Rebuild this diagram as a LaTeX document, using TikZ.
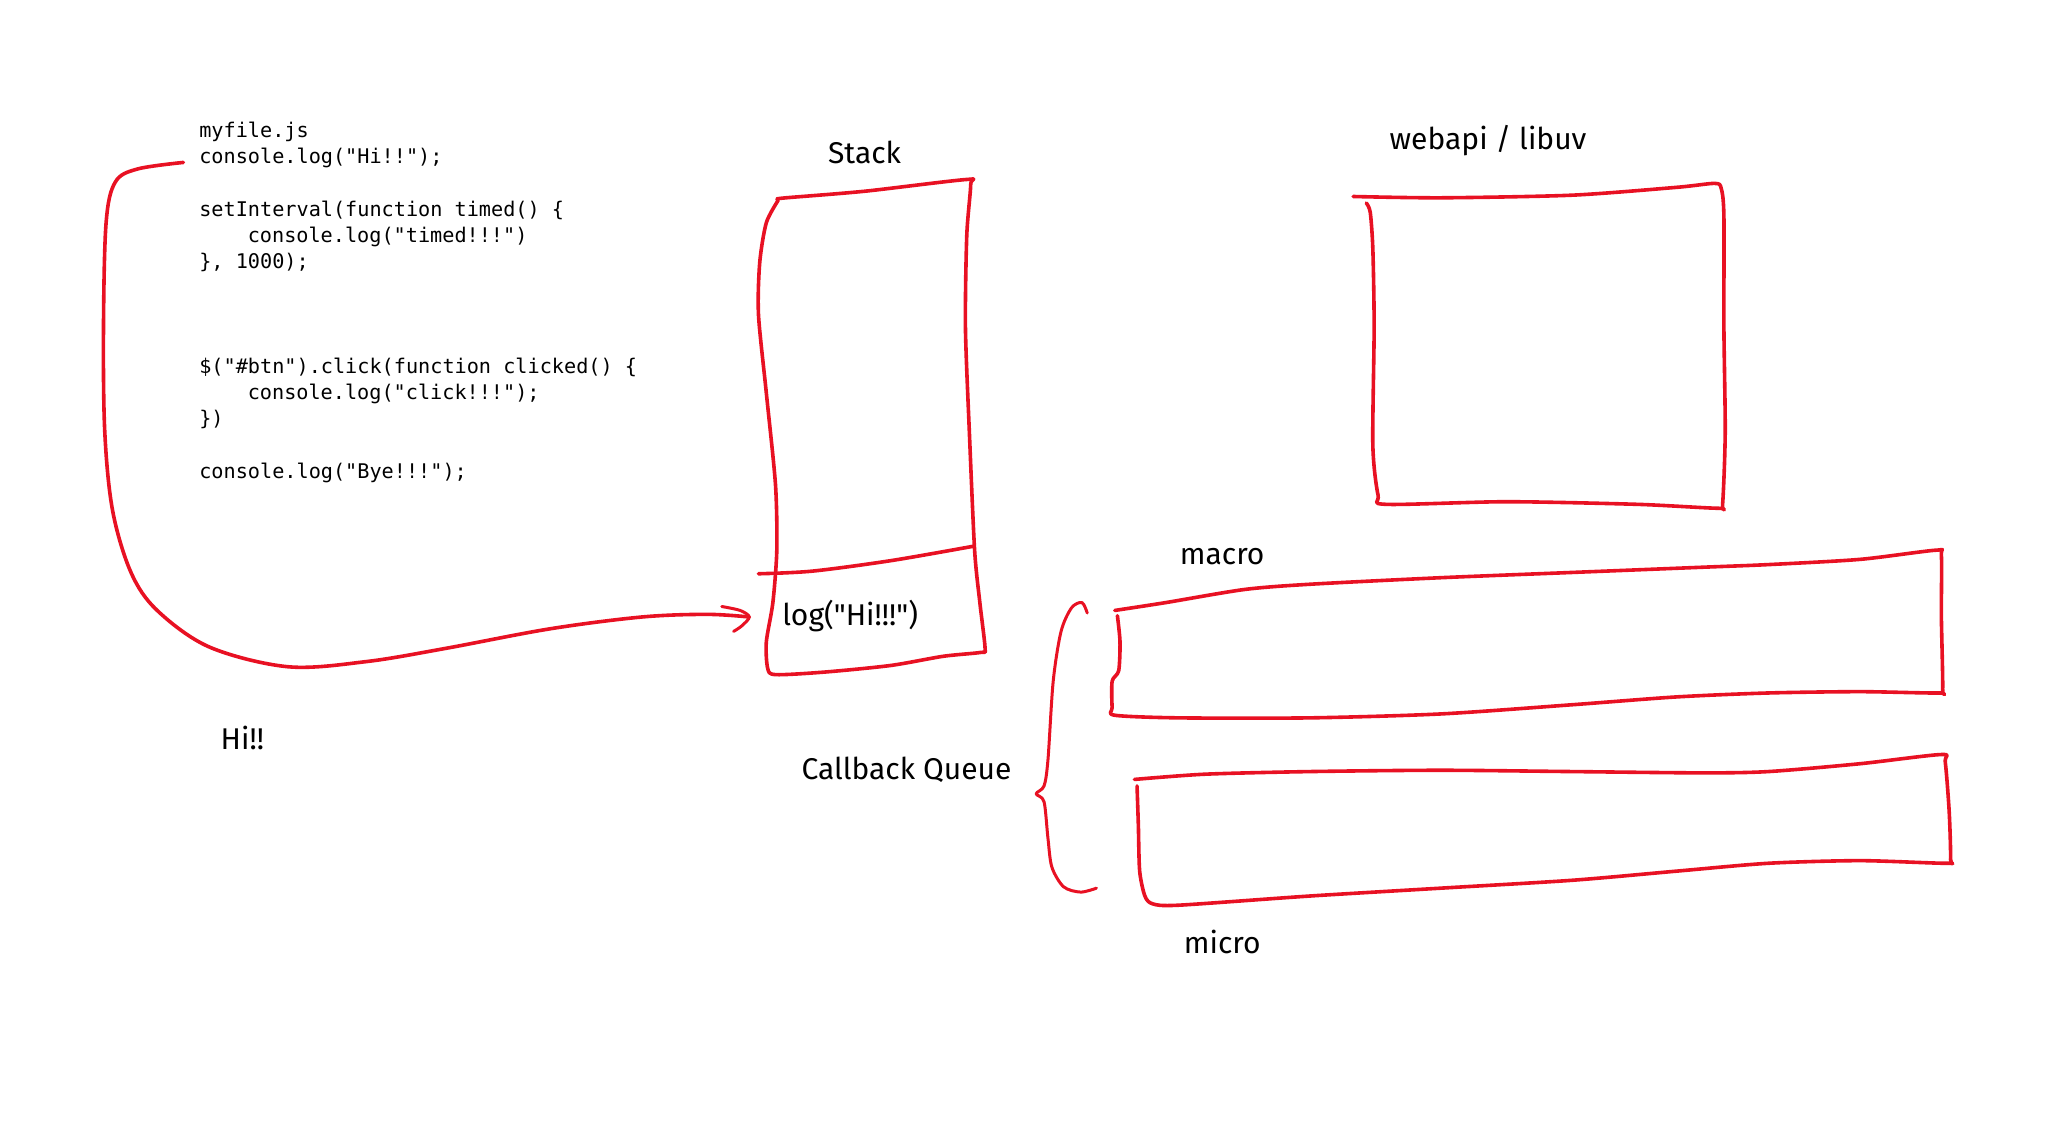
\documentclass[tikz,border=0pt]{standalone}
\usepackage{fontspec}
\newfontfamily\handfont{Fira Sans}
\newfontfamily\codefont{DejaVu Sans Mono}
\definecolor{ink}{HTML}{E81123}
\begin{document}
\begin{tikzpicture}[x=1.31pt,y=-1.31pt,
  inkline/.style={draw=ink,line width=3.6pt,line cap=round,line join=round},
  hand/.style={font=\handfont\fontsize{30}{36}\selectfont,inner sep=0pt},
  code/.style={font=\codefont\fontsize{20.2}{26}\selectfont,anchor=base west,inner sep=0pt}]
\useasboundingbox[fill=white] (0,0) rectangle (1568,856);

% code
\node[code] (c1)  at (152,105) {myfile.js};
\node[code] (c2)  at (152,125) {console.log("Hi!!");};
\node[code] (c3)  at (152,165) {setInterval(function timed() \{};
\node[code] (c4)  at (189,185) {console.log("timed!!!")};
\node[code] (c5)  at (152,205) {\}, 1000);};
\node[code] (c6)  at (152,285) {\$("\#btn").click(function clicked() \{};
\node[code] (c7)  at (189,305) {console.log("click!!!");};
\node[code] (c8)  at (152,325) {\})};
\node[code] (c9)  at (152,365) {console.log("Bye!!!");};

% labels
\node[hand] (stack)  at (660,116) {Stack};
\node[hand] (webapi) at (1136,107) {webapi / libuv};
\node[hand] (macro)  at (933,425) {macro};
\node[hand] (micro)  at (933,719) {micro};
\node[hand] (cbq)    at (692,588) {Callback Queue};
\node[hand] (hi)     at (185,563) {Hi!!};
\node[hand] (logHi)  at (649,470) {log("Hi!!!")};

% stack box
\draw[inkline] plot[smooth,tension=0.45] coordinates {
  (593,152) (600,151) (660,146) (738,137) (741,141) (738,180) (737,250) (740,330)
  (744,420) (748,460) (752,495) (749,498) (720,501) (680,508) (630,513) (592,515)
  (586,510) (585,490) (590,460) (593,420) (592,370) (585,300) (579,240) (580,200)
  (585,170) (594,153)};
\draw[inkline] plot[smooth,tension=0.5] coordinates {(579,438) (620,436) (680,428) (743,417)};

% webapi box
\draw[inkline] plot[smooth,tension=0.45] coordinates {
  (1033,150) (1100,151) (1200,149) (1280,143) (1309,140) (1314,144) (1316,165)
  (1316,250) (1317,330) (1315,385) (1312,388) (1250,385) (1150,383) (1058,385) (1052,378)
  (1048,340) (1049,250) (1048,190) (1046,162) (1043,155)};

% macro box
\draw[inkline] plot[smooth,tension=0.45] coordinates {
  (851,466) (890,460) (950,450) (1000,446) (1100,441) (1200,437) (1300,433)
  (1350,431) (1420,427) (1478,420) (1482,424) (1482,470) (1483,526) (1480,529) (1420,528)
  (1350,529) (1280,532) (1200,538) (1100,545) (1000,548) (900,548) (851,546)
  (849,540) (849,520) (854,512) (855,490) (853,470)};

% micro box
\draw[inkline] plot[smooth,tension=0.45] coordinates {
  (866,595) (920,591) (1000,589) (1100,588) (1200,589) (1300,590) (1350,589)
  (1420,583) (1482,576) (1485,582) (1488,620) (1489,656) (1486,659) (1420,657) (1350,659)
  (1280,665) (1200,672) (1100,678) (1000,684) (900,691) (880,690) (874,684)
  (870,665) (869,630) (868,600)};

% brace
\draw[inkline,line width=3pt] plot[smooth,tension=0.5] coordinates {
  (830,468) (826,460) (818,464) (810,482) (804,520) (800,580) (797,600)
  (791,606) (797,612) (800,640) (803,662) (812,677) (825,681) (837,678)};

% arrow from code to stack
\coordinate (from) at (140,124);
\coordinate (tip) at (572,471);
\draw[inkline] plot[smooth,tension=0.55] coordinates {
  (from) (105,129) (88,139) (81,170) (79,250) (80,330) (86,390) (100,437)
  (120,466) (160,494) (220,509) (280,505) (340,495) (420,480) (490,471) (540,469) (tip)};
\draw[inkline,line width=3pt] plot[smooth,tension=0.5] coordinates {(551,463) (565,466) (tip) (566,478) (560,482)};
\end{tikzpicture}
\end{document}
